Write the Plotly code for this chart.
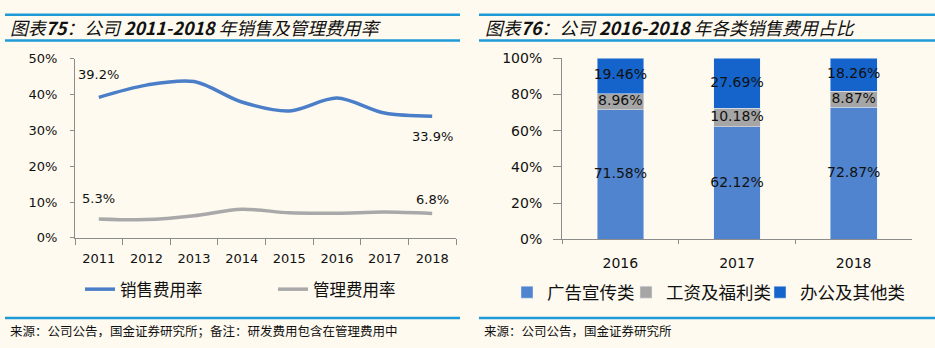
import plotly.graph_objects as go

# ---------------- data ----------------
years_left = ["2011", "2012", "2013", "2014", "2015", "2016", "2017", "2018"]
sales_rate = [39.2, 42.6, 43.6, 37.9, 35.4, 39.0, 34.8, 33.9]
admin_rate = [5.3, 5.1, 6.2, 8.0, 7.0, 6.9, 7.2, 6.8]

years_right = ["2016", "2017", "2018"]
ad_share = [71.58, 62.12, 72.87]
wage_share = [8.96, 10.18, 8.87]
other_share = [19.46, 27.69, 18.26]

W, H = 935, 348
BG = "#FEFAF0"
LINE_BLUE = "#4A7EC8"
LINE_GRAY = "#A9A9A9"
BAR_LIGHT = "#5084CE"
BAR_GRAY = "#A6A6A6"
BAR_DARK = "#1464CC"
RULE = "#1E9AD6"
AXIS = "#8C8C8C"
NUM_FONT = "DejaVu Sans"
CJK = "Noto Sans CJK SC"


def px(x):
    return x / W


def py(y):
    return 1 - y / H


fig = go.Figure()

# ---- left: line chart ----
fig.add_trace(go.Scatter(x=years_left, y=sales_rate, mode="lines", name="销售费用率",
                         line=dict(color=LINE_BLUE, width=3.5, shape="spline", smoothing=0.9),
                         xaxis="x", yaxis="y", legend="legend"))
fig.add_trace(go.Scatter(x=years_left, y=admin_rate, mode="lines", name="管理费用率",
                         line=dict(color=LINE_GRAY, width=3.5, shape="spline", smoothing=0.9),
                         xaxis="x", yaxis="y", legend="legend"))

# ---- right: stacked bars ----
fig.add_trace(go.Bar(x=years_right, y=ad_share, name="广告宣传类", marker_color=BAR_LIGHT,
                     width=0.4, xaxis="x2", yaxis="y2", legend="legend2"))
fig.add_trace(go.Bar(x=years_right, y=wage_share, name="工资及福利类", marker_color=BAR_GRAY,
                     width=0.4, xaxis="x2", yaxis="y2", legend="legend3"))
fig.add_trace(go.Bar(x=years_right, y=other_share, name="办公及其他类", marker_color=BAR_DARK,
                     width=0.4, xaxis="x2", yaxis="y2", legend="legend4"))

# bar segment labels at segment centres
lab_x, lab_y, lab_t = [], [], []
for i, yr in enumerate(years_right):
    base = 0.0
    for seg in (ad_share[i], wage_share[i], other_share[i]):
        lab_x.append(yr)
        lab_y.append(base + seg / 2)
        lab_t.append(f"{seg:.2f}%")
        base += seg
fig.add_trace(go.Scatter(x=lab_x, y=lab_y, text=lab_t, mode="text", showlegend=False,
                         textfont=dict(family=NUM_FONT, size=14, color="#111111"),
                         xaxis="x2", yaxis="y2", hoverinfo="skip"))

# line end labels (category index positions on the left x axis)
annos = []
first, last = 0, len(years_left) - 1
label_specs = [
    (first, sales_rate[first], 23),
    (last, sales_rate[last], -20),
    (first, admin_rate[first], 20),
    (last, admin_rate[last], 14),
]
for xi, yv, shift in label_specs:
    annos.append(dict(x=xi, y=yv, xref="x", yref="y", text=f"{yv:.1f}%", showarrow=False,
                      yshift=shift, font=dict(family=NUM_FONT, size=13, color="#111111")))

# titles
annos.append(dict(x=px(8), y=py(20), xref="paper", yref="paper", xanchor="left", yanchor="middle",
                  showarrow=False,
                  text="<i>图表<b>75</b>：公司 <b>2011-2018</b> 年销售及管理费用率</i>",
                  font=dict(family=CJK, size=17.8, color="#111111")))
annos.append(dict(x=px(483), y=py(20), xref="paper", yref="paper", xanchor="left", yanchor="middle",
                  showarrow=False,
                  text="<i>图表<b>76</b>：公司 <b>2016-2018</b> 年各类销售费用占比</i>",
                  font=dict(family=CJK, size=17.8, color="#111111")))
# sources
annos.append(dict(x=px(8), y=py(338), xref="paper", yref="paper", xanchor="left", yanchor="middle",
                  showarrow=False,
                  text="来源：公司公告，国金证券研究所；备注：研发费用包含在管理费用中",
                  font=dict(family=CJK, size=12.5, color="#111111")))
annos.append(dict(x=px(482), y=py(338), xref="paper", yref="paper", xanchor="left", yanchor="middle",
                  showarrow=False,
                  text="来源：公司公告，国金证券研究所",
                  font=dict(family=CJK, size=12.5, color="#111111")))

shapes = []
for x0, x1 in ((5, 460), (479, 935)):
    for yy in (7, 34, 325):
        shapes.append(dict(type="line", xref="paper", yref="paper",
                           x0=px(x0), x1=px(x1), y0=py(yy), y1=py(yy),
                           line=dict(color=RULE, width=2.5)))

right_leg_font = dict(family=CJK, size=17.5, color="#111111")


def right_legend(xpix):
    return dict(orientation="h", x=px(xpix), y=py(298), xanchor="left", yanchor="middle",
                bgcolor="rgba(0,0,0,0)", font=right_leg_font)


fig.update_layout(
    width=W, height=H,
    margin=dict(l=0, r=0, t=0, b=0),
    paper_bgcolor=BG, plot_bgcolor=BG,
    barmode="stack",
    showlegend=True,
    annotations=annos,
    shapes=shapes,
    xaxis=dict(domain=[px(75), px(456)], anchor="y", type="category", range=[-0.5, 7.5],
               showline=True, linecolor=AXIS, linewidth=1, ticks="outside", ticklen=6,
               tickcolor=AXIS, tickson="boundaries", showgrid=False, zeroline=False,
               ticklabelstandoff=8,
               tickfont=dict(family=NUM_FONT, size=13, color="#111111")),
    yaxis=dict(domain=[py(241), py(53)], anchor="x", range=[0, 50], dtick=10, ticksuffix="%",
               showline=True, linecolor=AXIS, linewidth=1, ticks="outside", ticklen=4,
               tickcolor=AXIS, showgrid=False, zeroline=False, ticklabelstandoff=10,
               tickfont=dict(family=NUM_FONT, size=13, color="#111111")),
    xaxis2=dict(domain=[px(562), px(912)], anchor="y2", type="category", range=[-0.5, 2.5],
                showline=True, linecolor=AXIS, linewidth=1, ticks="outside", ticklen=4,
                tickcolor=AXIS, tickson="boundaries", showgrid=False, zeroline=False,
                ticklabelstandoff=11,
                tickfont=dict(family=NUM_FONT, size=14, color="#111111")),
    yaxis2=dict(domain=[py(242.5), py(52.7)], anchor="x2", range=[0, 100], dtick=20, ticksuffix="%",
                showline=True, linecolor=AXIS, linewidth=1, ticks="outside", ticklen=8,
                tickcolor=AXIS, showgrid=False, zeroline=False, ticklabelstandoff=8,
                tickfont=dict(family=NUM_FONT, size=14, color="#111111")),
    legend=dict(orientation="h", x=px(80), y=py(295), xanchor="left", yanchor="middle",
                bgcolor="rgba(0,0,0,0)", entrywidth=148, entrywidthmode="pixels",
                font=dict(family=CJK, size=16.5, color="#111111")),
    legend2=right_legend(507),
    legend3=right_legend(626),
    legend4=right_legend(760),
)

fig.write_html("out.html")
